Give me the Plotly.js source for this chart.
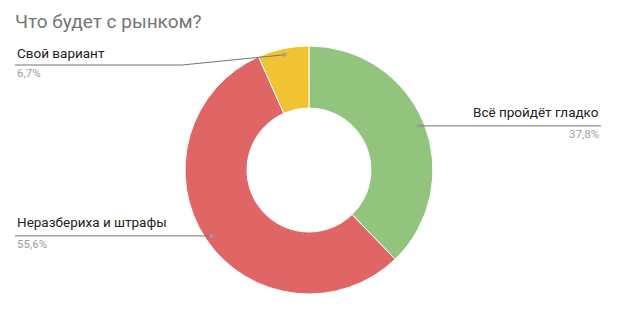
<!DOCTYPE html>
<html>
<head>
<meta charset="utf-8">
<script src="https://cdn.plot.ly/plotly-3.0.1.min.js"></script>
<style>
  html, body { margin: 0; padding: 0; background: #fff; }
  #chart { width: 617px; height: 309px; }
</style>
</head>
<body>
<div id="chart"></div>
<script>
// Survey answers: "What will happen to the market?"
const labels = ['Всё пройдёт гладко', 'Неразбериха и штрафы', 'Свой вариант'];
const counts = [17, 25, 3];
const colors = ['#93c47d', '#e06666', '#f1c232'];

const W = 617, H = 309;
// Donut placement in pixels
const cx = 309, cy = 170, R = 124;

const total = counts.reduce((a, b) => a + b, 0);
const pctText = counts.map(v => (v / total * 100).toFixed(1).replace('.', ',') + '%');

// Leader-line anchor on each slice: middle angle, slightly inside the outer edge
let acc = 0;
const anchors = counts.map(v => {
  const mid = (acc + v / 2) / total * 2 * Math.PI; // clockwise from 12 o'clock
  acc += v;
  return [cx + 0.95 * R * Math.sin(mid), cy - 0.95 * R * Math.cos(mid)];
});

// Label layout: leader-line points after the anchor, text side and rows
const labelLayout = [
  { path: [[601, null]], align: 'right', x: 601, yText: 112, yPct: 134 },
  { path: [[15, null]], align: 'left', x: 15, yText: 222, yPct: 244 },
  { path: [[182, 65], [15, 65]], align: 'left', x: 15, yText: 53, yPct: 73 }
];

const traces = [{
  type: 'pie',
  values: counts,
  labels: labels,
  marker: { colors: colors, line: { color: '#ffffff', width: 1 } },
  hole: 0.5,
  sort: false,
  direction: 'clockwise',
  rotation: 0,
  textinfo: 'none',
  hoverinfo: 'label+percent',
  showlegend: false,
  domain: { x: [(cx - R) / W, (cx + R) / W], y: [(H - cy - R) / H, (H - cy + R) / H] }
}, {
  // empty trace so the pixel-space axes exist
  type: 'scatter', x: [], y: [], showlegend: false, hoverinfo: 'skip'
}];

const annotations = [];
const shapes = [];
labelLayout.forEach((L, i) => {
  const [ax, ay] = anchors[i];
  let d = `M ${ax} ${ay}`;
  L.path.forEach(([px, py]) => { d += ` L ${px} ${py === null ? ay : py}`; });
  shapes.push({
    type: 'path', path: d, xref: 'x', yref: 'y', layer: 'above',
    line: { color: '#737373', width: 1 }
  });
  shapes.push({
    type: 'circle', xref: 'x', yref: 'y', layer: 'above',
    xsizemode: 'pixel', ysizemode: 'pixel', xanchor: ax, yanchor: ay,
    x0: -2, x1: 2, y0: -2, y1: 2,
    fillcolor: '#9e9e9e', line: { width: 0 }
  });
  annotations.push({
    x: L.x, y: L.yText, xref: 'x', yref: 'y', text: labels[i], showarrow: false,
    xanchor: L.align, yanchor: 'middle',
    font: { family: 'Roboto, Arial, sans-serif', size: 13.5, color: '#222222' }
  });
  annotations.push({
    x: L.x, y: L.yPct, xref: 'x', yref: 'y', text: pctText[i], showarrow: false,
    xanchor: L.align, yanchor: 'middle',
    font: { family: 'Roboto, Arial, sans-serif', size: 11.5, color: '#9e9e9e' }
  });
});

const layout = {
  width: W, height: H,
  margin: { l: 0, r: 0, t: 0, b: 0 },
  paper_bgcolor: '#ffffff', plot_bgcolor: 'rgba(0,0,0,0)',
  title: {
    text: 'Что будет с рынком?',
    x: 15 / W, xanchor: 'left', xref: 'paper',
    y: 1 - 21 / H, yanchor: 'middle', yref: 'paper',
    font: { family: 'Roboto, Arial, sans-serif', size: 19, color: '#757575' }
  },
  xaxis: { range: [0, W], visible: false, fixedrange: true },
  yaxis: { range: [H, 0], visible: false, fixedrange: true },
  shapes: shapes,
  annotations: annotations,
  showlegend: false
};

Plotly.newPlot('chart', traces, layout, { displayModeBar: false, staticPlot: true });
</script>
</body>
</html>
